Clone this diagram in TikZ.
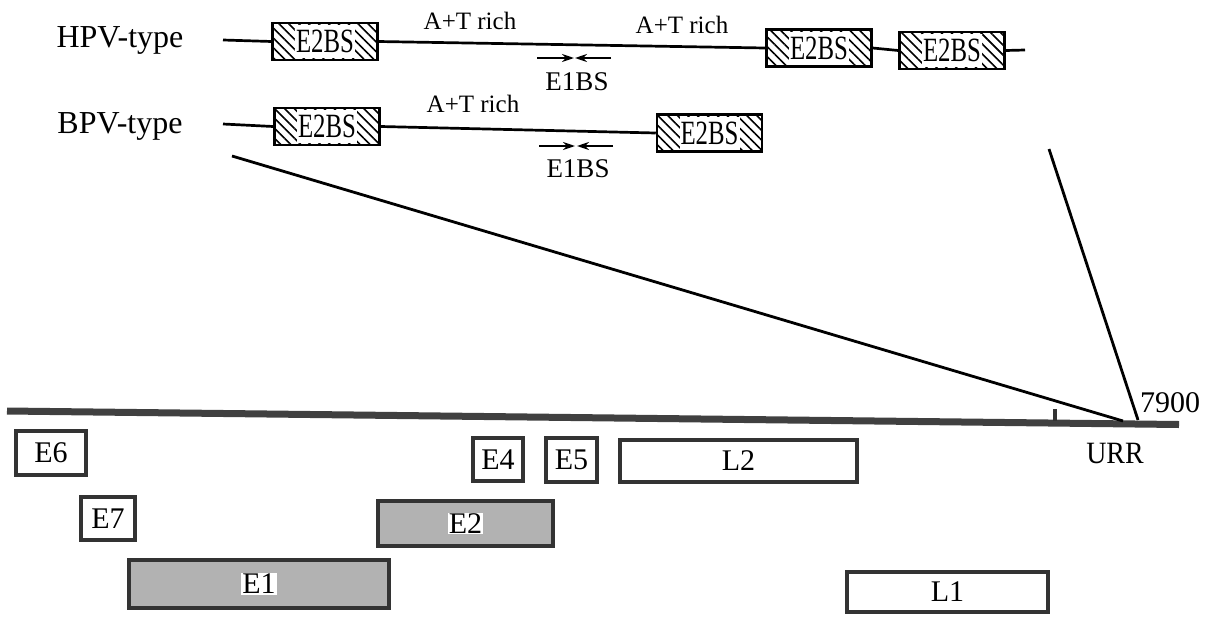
\documentclass[tikz,border=0pt]{standalone}
\usepackage{fontspec}
\setmainfont{Liberation Serif}
\usetikzlibrary{patterns.meta,arrows.meta}
\begin{document}
\begin{tikzpicture}[x=1pt,y=-1pt,
  gene/.style={draw=black!80, line width=4pt, inner sep=0pt, font=\fontsize{30}{32}\selectfont},
  egray/.style={gene, fill=black!30},
  ewhite/.style={gene, fill=white},
  lbl/.style={fill=white, inner sep=1pt, font=\fontsize{30}{32}\selectfont},
  bs/.style={draw=black, line width=2.5pt, minimum width=105pt, minimum height=37pt, inner sep=0pt,
    pattern={Lines[angle=-45,distance=7pt,line width=1.6pt]}},
  bstext/.style={fill=white, inner sep=0pt, minimum height=33pt, minimum width=60pt, font=\fontsize{34}{36}\selectfont},
  thin/.style={line width=2.7pt, black},
  diag/.style={line width=2.8pt, black},
  e1arrow/.style={line width=2pt, -{Stealth[length=12pt,width=8pt]}},
  title/.style={anchor=base, font=\fontsize{32}{34}\selectfont, inner sep=0pt},
  rich/.style={anchor=base, font=\fontsize{25}{27}\selectfont, inner sep=0pt},
  ebs/.style={anchor=base, font=\fontsize{27}{29}\selectfont, inner sep=0pt},
  num/.style={anchor=base, font=\fontsize{30}{32}\selectfont, inner sep=0pt}
]
\useasboundingbox (0,0) rectangle (1206,616);

% ---- HPV row ----
\node[title] (hpv) at (120,47) {HPV-type};
\coordinate (hs) at (223,40);
\coordinate (he) at (1025,50);
\node[bs] (H1) at (325,41.5) {};
\node[bs] (H2) at (819,48) {};
\node[bs] (H3) at (952,50.5) {};
\draw[thin] (hs) -- (H1.west);
\draw[thin] (H1.east) -- (H2.west);
\draw[thin] (H2.east) -- (H3.west);
\draw[thin] (H3.east) -- (he);
\node[bstext] at (H1) {\scalebox{0.73}[1]{E2BS}};
\node[bstext] at (H2) {\scalebox{0.73}[1]{E2BS}};
\node[bstext] at (H3) {\scalebox{0.73}[1]{E2BS}};
\node[rich] (r1) at (470,29) {A+T rich};
\node[rich] (r2) at (682,33) {A+T rich};
\coordinate (ha1) at (537,58);
\coordinate (ha2) at (574,58);
\coordinate (ha3) at (611,58);
\coordinate (ha4) at (575,58);
\draw[e1arrow] (ha1) -- (ha2);
\draw[e1arrow] (ha3) -- (ha4);
\node[ebs] (e1h) at (577,90) {E1BS};

% ---- BPV row ----
\node[title] (bpv) at (120,133) {BPV-type};
\coordinate (bst) at (223,124);
\node[bs] (B1) at (327,126.5) {};
\node[bs] (B2) at (709.5,133) {};
\draw[thin] (bst) -- (B1.west);
\draw[thin] (B1.east) -- (B2.west);
\node[bstext] at (B1) {\scalebox{0.73}[1]{E2BS}};
\node[bstext] at (B2) {\scalebox{0.73}[1]{E2BS}};
\node[rich] (r3) at (473,112) {A+T rich};
\coordinate (ba1) at (539,146);
\coordinate (ba2) at (575,146);
\coordinate (ba3) at (613,146);
\coordinate (ba4) at (577,146);
\draw[e1arrow] (ba1) -- (ba2);
\draw[e1arrow] (ba3) -- (ba4);
\node[ebs] (e1b) at (578,177) {E1BS};

% ---- genome bar ----
\coordinate (gl) at (7,411);
\coordinate (gr) at (1179,424.5);
\draw[line width=7pt, black!75] (gl) -- (gr);
\coordinate (tk1) at (1055,409);
\coordinate (tk2) at (1055,421);
\draw[line width=4pt, black!80] (tk1) -- (tk2);

% ---- zoom lines ----
\coordinate (d1a) at (232,156);
\coordinate (d1b) at (1123,421);
\coordinate (d2a) at (1049,149);
\coordinate (d2b) at (1138,420);
\draw[diag] (d1a) -- (d1b);
\draw[diag] (d2a) -- (d2b);

\node[num] (n7900) at (1170,412) {7900};
\node[num, font=\fontsize{31}{33}\selectfont] (urr) at (1115,463) {\scalebox{0.9}[1]{URR}};

% ---- ORFs ----
\node[ewhite, minimum width=70pt, minimum height=44pt] (E6) at (51,453) {E6};
\node[ewhite, minimum width=54pt, minimum height=43pt] (E7) at (108,518.5) {E7};
\node[egray, minimum width=260pt, minimum height=48pt] (E1) at (259,584) {};
\node[lbl] at (E1) {E1};
\node[ewhite, minimum width=50pt, minimum height=43pt] (E4) at (498,459.5) {E4};
\node[ewhite, minimum width=51pt, minimum height=44pt] (E5) at (571.5,460) {E5};
\node[egray, minimum width=175pt, minimum height=45pt] (E2) at (465.5,523.5) {};
\node[lbl] at (E2) {E2};
\node[ewhite, minimum width=237pt, minimum height=42pt] (L2) at (738.5,461) {L2};
\node[ewhite, minimum width=201pt, minimum height=40pt] (L1) at (947.5,592) {L1};
\end{tikzpicture}
\end{document}
